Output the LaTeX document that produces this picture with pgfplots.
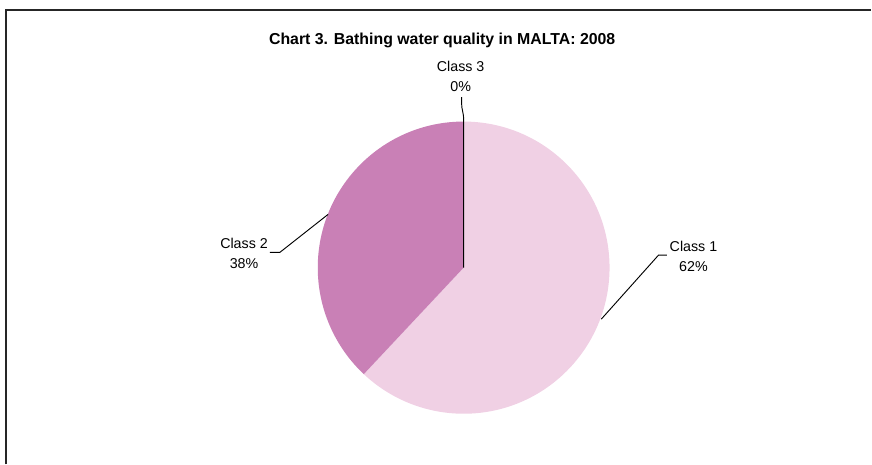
\documentclass[border=0pt]{standalone}
\usepackage{pgfplots}
\pgfplotsset{compat=1.18}
\usepackage{fontspec}
\setmainfont{Liberation Sans}

\definecolor{classone}{RGB}{240,208,228}
\definecolor{classtwo}{RGB}{201,128,182}

% shares in percent
\def\shareA{62}
\def\shareB{38}
\def\shareC{0}

\begin{document}
\begin{tikzpicture}
\begin{axis}[
    width=654pt, height=348pt,
    scale only axis,
    xmin=0, xmax=872, ymin=0, ymax=464,
    hide axis,
    clip=false,
]
% whole picture area
\path (axis cs:0,0) rectangle (axis cs:872,464);
% frame (cut at the right and bottom)
\draw[line width=1pt, black!85] (axis cs:6,0) -- (axis cs:6,454) -- (axis cs:872,454);

% pie: centre and radius in pixel units, class 1 clockwise from the top,
% class 2 anticlockwise from the top
\pgfmathsetmacro{\endA}{90-3.6*\shareA}
\pgfmathsetmacro{\endB}{90+3.6*\shareB}
\fill[classone] (axis cs:464,196.5) -- (axis cs:464,342.5)
    arc[start angle=90, end angle=\endA, radius=146] -- cycle;
\fill[classtwo] (axis cs:464,196.5) -- (axis cs:464,342.5)
    arc[start angle=90, end angle=\endB, radius=146] -- cycle;

% leader lines
\draw[line width=0.7pt] (axis cs:464,196.5) -- (axis cs:464,344)
    .. controls (axis cs:464,352) and (axis cs:462,354) .. (axis cs:462,360) -- (axis cs:462,367);
\draw[line width=0.7pt] (axis cs:328.3,249.7) -- (axis cs:280,211.7) -- (axis cs:270,211.7);
\draw[line width=0.7pt] (axis cs:601.7,145) -- (axis cs:659,209) -- (axis cs:667.3,209);

% labels
\node[align=center, font=\fontsize{10.7}{15}\selectfont] at (axis cs:461,387.3) {Class 3\\0\%};
\node[align=center, font=\fontsize{10.7}{15}\selectfont] at (axis cs:244.2,211.2) {Class 2\\38\%};
\node[align=center, font=\fontsize{10.7}{15}\selectfont] at (axis cs:694,208.2) {Class 1\\62\%};

% title
\node[font=\fontsize{11.9}{14}\selectfont\bfseries] at (axis cs:442.5,423.3)
    {Chart 3. Bathing water quality in MALTA: 2008};
\end{axis}
\end{tikzpicture}
\end{document}
